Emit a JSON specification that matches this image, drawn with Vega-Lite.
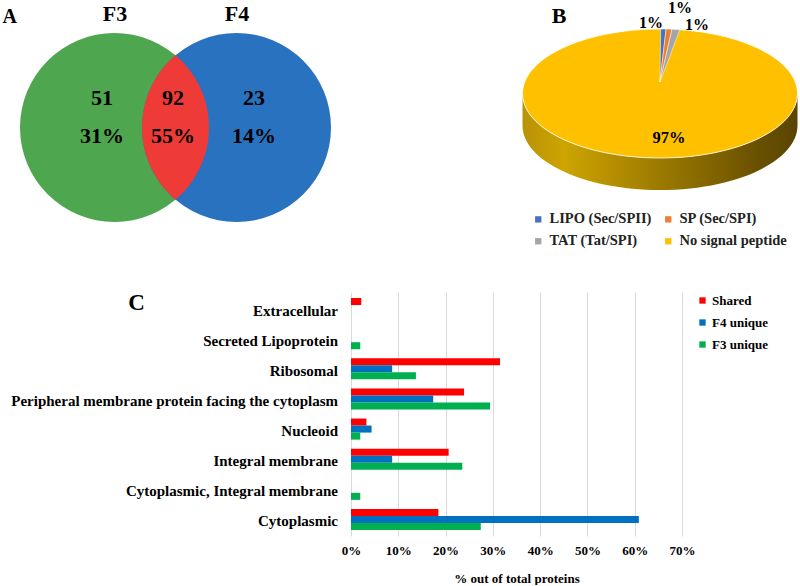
{
  "$schema": "https://vega.github.io/schema/vega-lite/v6.json",
  "padding": {"left": 2, "top": 0, "right": 0, "bottom": 0},
  "spacing": 44,
  "config": {
    "view": {"stroke": null},
    "font": "Liberation Serif",
    "axis": {"labelFont": "Liberation Serif", "titleFont": "Liberation Serif"},
    "legend": {"labelFont": "Liberation Serif", "titleFont": "Liberation Serif"},
    "text": {"font": "Liberation Serif", "fontWeight": "bold", "color": "black"}
  },
  "resolve": {
    "scale": {"color": "independent", "x": "independent", "y": "independent"},
    "legend": {"color": "independent"}
  },
  "vconcat": [
    {
      "hconcat": [
        {
          "width": 311,
          "height": 189,
          "data": {"values": [
            {"region": "F3", "count": "51", "percent": "31%"},
            {"region": "both", "count": "92", "percent": "55%"},
            {"region": "F4", "count": "23", "percent": "14%"}
          ]},
          "encoding": {
            "x": {
              "field": "region", "type": "nominal",
              "scale": {"type": "point", "domain": ["F3", "both", "F4"], "range": [94.5, 216.5], "padding": 0},
              "axis": {
                "orient": "top", "values": ["F3", "F4"], "domain": false, "ticks": false, "tickSize": 0, "grid": false,
                "labelFontSize": 22, "labelFontWeight": "bold", "labelPadding": 8, "labelColor": "black", "labelAngle": 0,
                "title": "A", "titleAngle": 0, "titleX": -18, "titleY": -17, "titleAlign": "left", "titleBaseline": "middle",
                "titleFontSize": 20, "titleFontWeight": "bold", "titleColor": "black"
              }
            }
          },
          "layer": [
            {
              "transform": [{"filter": {"field": "region", "oneOf": ["F3", "F4"]}}],
              "mark": {"type": "point", "shape": "circle", "filled": true, "opacity": 1, "size": 35721, "strokeWidth": 0},
              "encoding": {
                "color": {"field": "region", "type": "nominal", "scale": {"domain": ["F3", "F4"], "range": ["#4ea64f", "#2872bf"]}, "legend": null}
              }
            },
            {
              "transform": [{"filter": "datum.region == 'both'"}],
              "mark": {"type": "point", "shape": "M0,-0.7637 A1,1 0 0,1 0,0.7637 A1,1 0 0,1 0,-0.7637 Z", "filled": true, "opacity": 1, "size": 35721, "fill": "#ee3b37", "strokeWidth": 0}
            },
            {
              "transform": [{"filter": "datum.region == 'F3'"}, {"fold": ["count", "percent"], "as": ["line", "text"]}],
              "mark": {"type": "text", "fontSize": 22, "fontWeight": "bold", "dx": -12.5, "baseline": "middle"},
              "encoding": {
                "y": {"field": "line", "type": "nominal", "scale": {"type": "point", "domain": ["count", "percent"], "range": [65, 103], "padding": 0}, "axis": null},
                "text": {"field": "text"}
              }
            },
            {
              "transform": [{"filter": "datum.region == 'both'"}, {"fold": ["count", "percent"], "as": ["line", "text"]}],
              "mark": {"type": "text", "fontSize": 22, "fontWeight": "bold", "dx": -2.5, "baseline": "middle"},
              "encoding": {
                "y": {"field": "line", "type": "nominal", "scale": {"type": "point", "domain": ["count", "percent"], "range": [65, 103], "padding": 0}, "axis": null},
                "text": {"field": "text"}
              }
            },
            {
              "transform": [{"filter": "datum.region == 'F4'"}, {"fold": ["count", "percent"], "as": ["line", "text"]}],
              "mark": {"type": "text", "fontSize": 22, "fontWeight": "bold", "dx": 17.5, "baseline": "middle"},
              "encoding": {
                "y": {"field": "line", "type": "nominal", "scale": {"type": "point", "domain": ["count", "percent"], "range": [65, 103], "padding": 0}, "axis": null},
                "text": {"field": "text"}
              }
            }
          ]
        },
        {
          "width": 276,
          "height": 121,
          "data": {"values": [
            {"cat": "No signal peptide", "pct": 97, "label": "97%"},
            {"cat": "LIPO (Sec/SPII)", "pct": 1, "label": "1%"},
            {"cat": "SP (Sec/SPI)", "pct": 1, "label": "1%"},
            {"cat": "TAT (Tat/SPI)", "pct": 1, "label": "1%"}
          ]},
          "layer": [
            {
              "transform": [{"filter": "datum.cat == 'No signal peptide'"}],
              "mark": {
                "type": "point", "filled": true, "opacity": 1, "size": 75625, "strokeWidth": 0,
                "shape": "M-1,0 A1,0.469 0 0,0 1,0 L1,0.2327 A1,0.469 0 0,1 -1,0.2327 Z",
                "fill": {"gradient": "linear", "x1": 0, "x2": 1, "y1": 0, "y2": 0, "stops": [
                  {"offset": 0, "color": "#b99208"},
                  {"offset": 0.15, "color": "#cda400"},
                  {"offset": 0.5, "color": "#9c7a00"},
                  {"offset": 0.85, "color": "#6a5100"},
                  {"offset": 1, "color": "#5a4400"}
                ]}
              }
            },
            {
              "transform": [{"filter": "datum.cat == 'No signal peptide'"}],
              "mark": {"type": "point", "filled": true, "opacity": 1, "size": 75625, "stroke": "white", "strokeWidth": 0.8,
                "shape": "M-1,0 A1,0.469 0 1,1 1,0 A1,0.469 0 1,1 -1,0 Z"},
              "encoding": {
                "color": {
                  "field": "cat", "type": "nominal",
                  "scale": {
                    "domain": ["LIPO (Sec/SPII)", "TAT (Tat/SPI)", "SP (Sec/SPI)", "No signal peptide"],
                    "range": ["#4472c4", "#a5a5a5", "#ed7d31", "#ffc000"]
                  },
                  "legend": {
                    "title": null, "orient": "none", "legendX": 9, "legendY": 179, "columns": 2, "columnPadding": 9,
                    "rowPadding": 7, "symbolType": "square", "symbolSize": 40, "symbolStrokeWidth": 0,
                    "labelFontSize": 14.5, "labelFontWeight": "bold", "labelColor": "#222222", "labelOffset": 4, "labelLimit": 300
                  }
                }
              }
            },
            {
              "transform": [{"filter": "datum.cat == 'LIPO (Sec/SPII)'"}],
              "mark": {"type": "point", "filled": true, "opacity": 1, "size": 75625, "stroke": "white", "strokeWidth": 0.5,
                "shape": "M0,-0.0836 L0.005,-0.469 A1,0.469 0 0,1 0.044,-0.4685 Z"},
              "encoding": {"color": {"field": "cat", "type": "nominal"}}
            },
            {
              "transform": [{"filter": "datum.cat == 'SP (Sec/SPI)'"}],
              "mark": {"type": "point", "filled": true, "opacity": 1, "size": 75625, "stroke": "white", "strokeWidth": 0.5,
                "shape": "M0,-0.0836 L0.044,-0.4685 A1,0.469 0 0,1 0.087,-0.4672 Z"},
              "encoding": {"color": {"field": "cat", "type": "nominal"}}
            },
            {
              "transform": [{"filter": "datum.cat == 'TAT (Tat/SPI)'"}],
              "mark": {"type": "point", "filled": true, "opacity": 1, "size": 75625, "stroke": "white", "strokeWidth": 0.5,
                "shape": "M0,-0.0836 L0.087,-0.4672 A1,0.469 0 0,1 0.145,-0.4640 Z"},
              "encoding": {"color": {"field": "cat", "type": "nominal"}}
            },
            {
              "transform": [{"filter": "datum.cat == 'LIPO (Sec/SPII)'"}],
              "mark": {"type": "text", "fontSize": 16, "fontWeight": "bold", "dx": -9, "dy": -70.5, "baseline": "middle"},
              "encoding": {"text": {"field": "label"}}
            },
            {
              "transform": [{"filter": "datum.cat == 'SP (Sec/SPI)'"}],
              "mark": {"type": "text", "fontSize": 16, "fontWeight": "bold", "dx": 20, "dy": -85.5, "baseline": "middle"},
              "encoding": {"text": {"field": "label"}}
            },
            {
              "transform": [{"filter": "datum.cat == 'TAT (Tat/SPI)'"}],
              "mark": {"type": "text", "fontSize": 16, "fontWeight": "bold", "dx": 37, "dy": -68.5, "baseline": "middle"},
              "encoding": {"text": {"field": "label"}}
            },
            {
              "transform": [{"filter": "datum.cat == 'No signal peptide'"}],
              "mark": {"type": "text", "fontSize": 16.5, "fontWeight": "bold", "dx": 9, "dy": 44.5, "baseline": "middle"},
              "encoding": {"text": {"field": "label"}}
            },
            {
              "data": {"values": [{"panel": "B"}]},
              "mark": {"type": "text", "fontSize": 22, "fontWeight": "bold", "dx": -101, "dy": -77.5, "baseline": "middle"},
              "encoding": {"text": {"field": "panel"}}
            }
          ]
        }
      ],
      "spacing": 191,
      "bounds": "flush",
      "resolve": {
        "scale": {"color": "independent", "x": "independent", "y": "independent"},
        "legend": {"color": "independent"}
      }
    },
    {
      "hconcat": [
        {
          "width": 139.5,
          "height": 244,
          "data": {"values": [{"panel": "C"}]},
          "mark": {"type": "text", "fontSize": 23, "fontWeight": "bold", "dx": 46.75, "dy": -111, "baseline": "middle"},
          "encoding": {"text": {"field": "panel"}}
        },
        {
          "width": 331,
          "height": 244,
          "data": {"values": [
            {"category": "Extracellular", "group": "Shared", "pct": 2.17},
            {"category": "Extracellular", "group": "F4 unique", "pct": 0},
            {"category": "Extracellular", "group": "F3 unique", "pct": 0},
            {"category": "Secreted Lipoprotein", "group": "Shared", "pct": 0},
            {"category": "Secreted Lipoprotein", "group": "F4 unique", "pct": 0},
            {"category": "Secreted Lipoprotein", "group": "F3 unique", "pct": 1.96},
            {"category": "Ribosomal", "group": "Shared", "pct": 31.52},
            {"category": "Ribosomal", "group": "F4 unique", "pct": 8.7},
            {"category": "Ribosomal", "group": "F3 unique", "pct": 13.73},
            {"category": "Peripheral membrane protein facing the cytoplasm", "group": "Shared", "pct": 23.91},
            {"category": "Peripheral membrane protein facing the cytoplasm", "group": "F4 unique", "pct": 17.39},
            {"category": "Peripheral membrane protein facing the cytoplasm", "group": "F3 unique", "pct": 29.41},
            {"category": "Nucleoid", "group": "Shared", "pct": 3.26},
            {"category": "Nucleoid", "group": "F4 unique", "pct": 4.35},
            {"category": "Nucleoid", "group": "F3 unique", "pct": 1.96},
            {"category": "Integral membrane", "group": "Shared", "pct": 20.65},
            {"category": "Integral membrane", "group": "F4 unique", "pct": 8.7},
            {"category": "Integral membrane", "group": "F3 unique", "pct": 23.53},
            {"category": "Cytoplasmic, Integral membrane", "group": "Shared", "pct": 0},
            {"category": "Cytoplasmic, Integral membrane", "group": "F4 unique", "pct": 0},
            {"category": "Cytoplasmic, Integral membrane", "group": "F3 unique", "pct": 1.96},
            {"category": "Cytoplasmic", "group": "Shared", "pct": 18.48},
            {"category": "Cytoplasmic", "group": "F4 unique", "pct": 60.87},
            {"category": "Cytoplasmic", "group": "F3 unique", "pct": 27.45}
          ]},
          "mark": {"type": "bar"},
          "encoding": {
            "y": {
              "field": "category", "type": "nominal",
              "sort": ["Extracellular", "Secreted Lipoprotein", "Ribosomal", "Peripheral membrane protein facing the cytoplasm", "Nucleoid", "Integral membrane", "Cytoplasmic, Integral membrane", "Cytoplasmic"],
              "scale": {"paddingInner": 0.3, "paddingOuter": 0.2},
              "axis": {
                "title": null, "domain": false, "ticks": false, "tickSize": 0, "grid": false,
                "labelFontSize": 15, "labelFontWeight": "bold", "labelColor": "black", "labelPadding": 13.5,
                "labelLimit": 400, "labelOffset": 2
              }
            },
            "yOffset": {"field": "group", "type": "nominal", "sort": ["Shared", "F4 unique", "F3 unique"], "scale": {"paddingInner": 0}},
            "x": {
              "field": "pct", "type": "quantitative",
              "scale": {"domain": [0, 70], "nice": false},
              "axis": {
                "values": [0, 10, 20, 30, 40, 50, 60, 70], "labelExpr": "datum.value + '%'",
                "domain": false, "ticks": false, "tickSize": 0, "grid": true, "gridColor": "#d9d9d9", "gridWidth": 1,
                "labelFontSize": 13, "labelFontWeight": "bold", "labelColor": "black", "labelPadding": 8, "labelFlush": false,
                "labelOverlap": false,
                "title": "% out of total proteins", "titleFontSize": 13, "titleFontWeight": "bold", "titleColor": "black", "titlePadding": 15
              }
            },
            "color": {
              "field": "group", "type": "nominal",
              "scale": {"domain": ["Shared", "F4 unique", "F3 unique"], "range": ["#ff0000", "#0070c0", "#00b050"]},
              "legend": {
                "title": null, "orient": "right", "offset": 12, "symbolType": "square", "symbolSize": 40, "symbolStrokeWidth": 0,
                "labelFontSize": 13, "labelFontWeight": "bold", "labelColor": "black", "rowPadding": 8, "padding": 2, "labelOffset": 3
              }
            }
          }
        }
      ],
      "spacing": 191,
      "bounds": "flush",
      "resolve": {
        "scale": {"color": "independent", "x": "independent", "y": "independent"},
        "legend": {"color": "independent"}
      }
    }
  ]
}
